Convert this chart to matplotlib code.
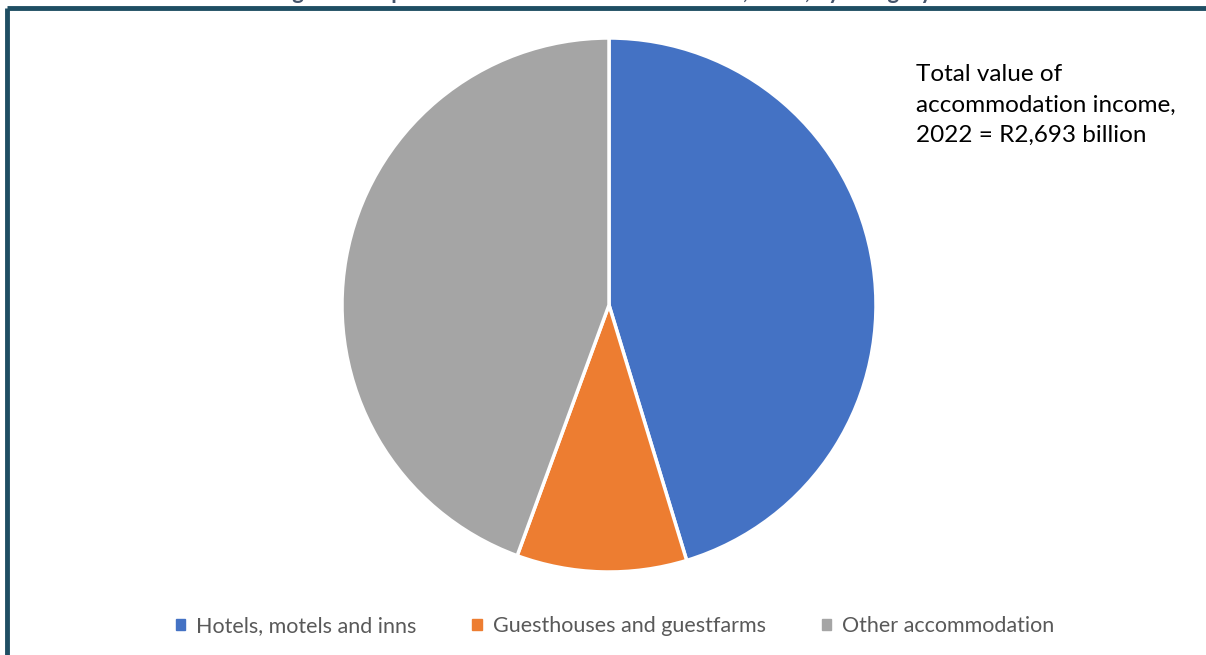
import matplotlib.pyplot as plt
from matplotlib.patches import Rectangle
from matplotlib.lines import Line2D

# accommodation income 2022, R million
categories = ["Hotels, motels and inns", "Guesthouses and guestfarms", "Other accommodation"]
income = [1220, 277, 1196]
colors = ["#4472c4", "#ed7d31", "#a5a5a5"]
total_note = "Total value of\naccommodation income,\n2022 = R2,693 billion"
title = "Figure 10: Split of total accommodation income, 2022, by category"

plt.rcParams['font.family'] = ['Lato', 'DejaVu Sans']

W, H = 1206, 655
fig = plt.figure(figsize=(W / 100, H / 100), dpi=100)

# frame around the chart (top and left edges are visible)
fig.add_artist(Line2D([7 / W, 1], [1 - 8 / H, 1 - 8 / H], transform=fig.transFigure,
                      color="#1f4e63", lw=3.5, solid_capstyle="butt"))
fig.add_artist(Line2D([7 / W, 7 / W], [0, 1 - 8 / H], transform=fig.transFigure,
                      color="#1f4e63", lw=3.5, solid_capstyle="butt"))

# title sits mostly above the frame
fig.text(0.5, 1 + 1 / H, title, ha="center", va="baseline", fontsize=16,
         fontweight="bold", color="#44546a")

cx, cy, r = 609, 305, 267
ax = fig.add_axes([(cx - r) / W, 1 - (cy + r) / H, 2 * r / W, 2 * r / H])
ax.pie(income, colors=colors, startangle=90, counterclock=False, radius=1,
       wedgeprops=dict(edgecolor="white", linewidth=2.5))
ax.set_xlim(-1, 1)
ax.set_ylim(-1, 1)
ax.set_aspect("equal")

fig.text(916 / W, 1 - 105 / H, total_note, ha="left", va="center", fontsize=17.5,
         color="black", linespacing=1.55)

handles = [Rectangle((0, 0), 1, 1, color=c) for c in colors]
fig.legend(handles, categories, loc="center", bbox_to_anchor=(615 / W, 1 - 626 / H),
           ncol=3, frameon=False, fontsize=15.5, labelcolor="#595959",
           handlelength=0.45, handleheight=0.45, handletextpad=0.5, columnspacing=2.6)

fig.savefig("out.png", dpi=100)
